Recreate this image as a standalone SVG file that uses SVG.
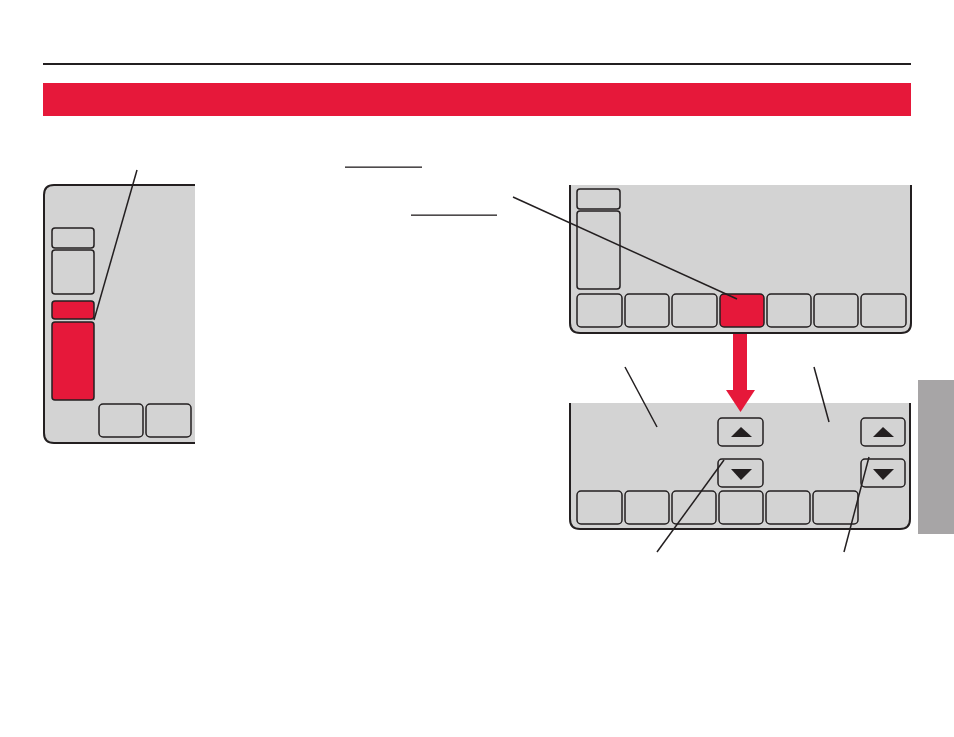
<svg xmlns="http://www.w3.org/2000/svg" width="954" height="737" viewBox="0 0 954 737">
<style>
.dev{fill:#d3d3d3;stroke:#231f20;stroke-width:2}
.btn{fill:#d3d3d3;stroke:#231f20;stroke-width:1.5}
.red{fill:#e6183a;stroke:#231f20;stroke-width:1.5}
.lead{stroke:#231f20;stroke-width:1.5;fill:none}
.tri{fill:#231f20}
</style>
<rect width="954" height="737" fill="#fff"/>
<rect x="43" y="63" width="868" height="2" fill="#231f20"/>
<rect x="43" y="83" width="868" height="33" fill="#e6183a"/>
<rect x="918" y="380" width="36" height="154" fill="#a7a5a6"/>

<g id="device-left">
<path class="dev" d="M195 185 H54 Q44 185 44 195 V433 Q44 443 54 443 H195"/>
<rect class="btn" x="52" y="228" width="42" height="20" rx="3"/>
<rect class="btn" x="52" y="250" width="42" height="44" rx="3"/>
<rect class="red" x="52" y="301" width="42" height="18" rx="3"/>
<rect class="red" x="52" y="322" width="42" height="78" rx="3"/>
<rect class="btn" x="99" y="404" width="44" height="33" rx="4"/>
<rect class="btn" x="146" y="404" width="45" height="33" rx="4"/>
</g>

<g id="underlines">
<rect x="345" y="166.5" width="77" height="1.3" fill="#231f20"/>
<rect x="411" y="214.5" width="86" height="1.3" fill="#231f20"/>
</g>

<g id="device-top">
<path class="dev" d="M570 185 V323 Q570 333 580 333 H901 Q911 333 911 323 V185"/>
<rect class="btn" x="577" y="189" width="43" height="20" rx="3"/>
<rect class="btn" x="577" y="211" width="43" height="78" rx="3"/>
<rect class="btn" x="577" y="294" width="45" height="33" rx="4"/>
<rect class="btn" x="625" y="294" width="44" height="33" rx="4"/>
<rect class="btn" x="672" y="294" width="45" height="33" rx="4"/>
<rect class="red" x="720" y="294" width="44" height="33" rx="4"/>
<rect class="btn" x="767" y="294" width="44" height="33" rx="4"/>
<rect class="btn" x="814" y="294" width="44" height="33" rx="4"/>
<rect class="btn" x="861" y="294" width="45" height="33" rx="4"/>
</g>

<g id="device-bottom">
<path class="dev" d="M570 403 V519 Q570 529 580 529 H900 Q910 529 910 519 V403"/>
<rect class="btn" x="718" y="418" width="45" height="28" rx="4"/>
<polygon class="tri" points="741,427 731,437 752,437"/>
<rect class="btn" x="718" y="459" width="45" height="28" rx="4"/>
<polygon class="tri" points="731,469 752,469 741,480"/>
<rect class="btn" x="861" y="418" width="44" height="28" rx="4"/>
<polygon class="tri" points="883,427 873,437 894,437"/>
<rect class="btn" x="861" y="459" width="44" height="28" rx="4"/>
<polygon class="tri" points="873,469 894,469 883,480"/>
<rect class="btn" x="577" y="491" width="45" height="33" rx="4"/>
<rect class="btn" x="625" y="491" width="44" height="33" rx="4"/>
<rect class="btn" x="672" y="491" width="44" height="33" rx="4"/>
<rect class="btn" x="719" y="491" width="44" height="33" rx="4"/>
<rect class="btn" x="766" y="491" width="44" height="33" rx="4"/>
<rect class="btn" x="813" y="491" width="45" height="33" rx="4"/>
</g>

<g id="arrow-down">
<rect x="733" y="334" width="14" height="57" fill="#e6183a"/>
<polygon points="726,390 755,390 740.5,412" fill="#e6183a"/>
</g>

<g id="connectors">
<line class="lead" x1="137" y1="170" x2="94" y2="320"/>
<line class="lead" x1="513" y1="197" x2="737" y2="299"/>
<line class="lead" x1="625" y1="367" x2="657" y2="427"/>
<line class="lead" x1="814" y1="367" x2="829" y2="422"/>
<line class="lead" x1="657" y1="552" x2="724" y2="460"/>
<line class="lead" x1="844" y1="552" x2="869" y2="457"/>
</g>
</svg>
